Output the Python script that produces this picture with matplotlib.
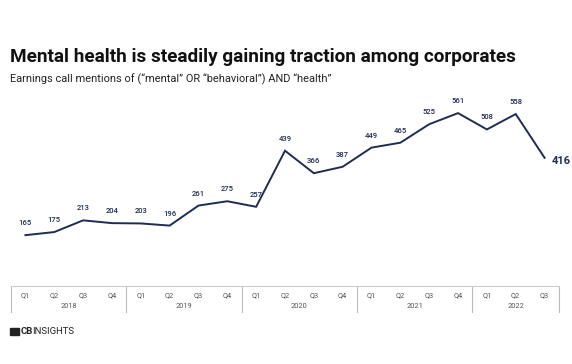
import matplotlib
matplotlib.use("Agg")
import matplotlib.pyplot as plt
from matplotlib.patches import Rectangle
from matplotlib.transforms import blended_transform_factory

plt.rcParams['font.family'] = ['Roboto', 'DejaVu Sans']

# data
quarters = ['Q1', 'Q2', 'Q3', 'Q4'] * 4 + ['Q1', 'Q2', 'Q3']
years = ['2018', '2019', '2020', '2021', '2022']
mentions = [165, 175, 213, 204, 203, 196, 261, 275, 257, 439,
            366, 387, 449, 465, 525, 561, 508, 558, 416]

navy = '#1f2b52'
W, H = 572, 364
fig = plt.figure(figsize=(W / 100, H / 100), dpi=100)

# axes box in pixels: x 11..559, y 90..286
ax = fig.add_axes([11 / W, 1 - 286 / H, 548 / W, 196 / H])
x = list(range(len(mentions)))
ax.plot(x, mentions, color=navy, lw=1.4, solid_joinstyle='miter')
ax.set_xlim(-0.5, len(mentions) - 0.5)
ax.set_ylim(0, 636)

for i, v in enumerate(mentions[:-1]):
    ax.annotate(str(v), (i, v), xytext=(0, 6.5), textcoords='offset points',
                ha='center', va='bottom', fontsize=5.5, color=navy,
                fontweight='medium')
ax.annotate(str(mentions[-1]), (x[-1], mentions[-1]), xytext=(5, -2),
            textcoords='offset points', ha='left', va='center',
            fontsize=8, color=navy, fontweight='bold')

# category table under the plot
for s in ['left', 'right', 'top']:
    ax.spines[s].set_visible(False)
ax.spines['bottom'].set_color('#cccccc')
ax.spines['bottom'].set_linewidth(0.8)
ax.set_xticks([])
ax.set_yticks([])

tr = blended_transform_factory(ax.transData, ax.transAxes)
for i, q in enumerate(quarters):
    ax.text(i, -0.05, q, transform=tr, ha='center', va='center',
            fontsize=5.3, color='#555555')
starts = [0, 4, 8, 12, 16]
ends = [4, 8, 12, 16, len(mentions)]
for yr, a, b in zip(years, starts, ends):
    ax.text((a + b - 1) / 2, -0.107, yr, transform=tr, ha='center',
            va='center', fontsize=5.3, color='#555555')
for sep in [-0.5] + [b - 0.5 for b in ends]:
    ax.plot([sep, sep], [0, -0.135], transform=tr, color='#bbbbbb',
            lw=0.8, clip_on=False)

# titles
fig.text(10 / W, 1 - 62 / H, 'Mental health is steadily gaining traction among corporates',
         fontsize=13.6, fontweight='bold', color='#111111', va='baseline')
fig.text(10 / W, 1 - 82 / H,
         'Earnings call mentions of (\u201cmental\u201d OR \u201cbehavioral\u201d) AND \u201chealth\u201d',
         fontsize=7.9, color='#222222', va='baseline')

# logo
fig.patches.append(Rectangle((10 / W, 1 - 335 / H), 9 / W, 7 / H,
                             transform=fig.transFigure, color='#222222'))
fig.text(21 / W, 1 - 331.5 / H, 'CB', fontsize=6.8, fontweight='bold',
         color='#222222', va='center')
fig.text(32.5 / W, 1 - 331.5 / H, 'INSIGHTS', fontsize=6.8, color='#222222',
         va='center')

fig.savefig('out.png', dpi=100)
